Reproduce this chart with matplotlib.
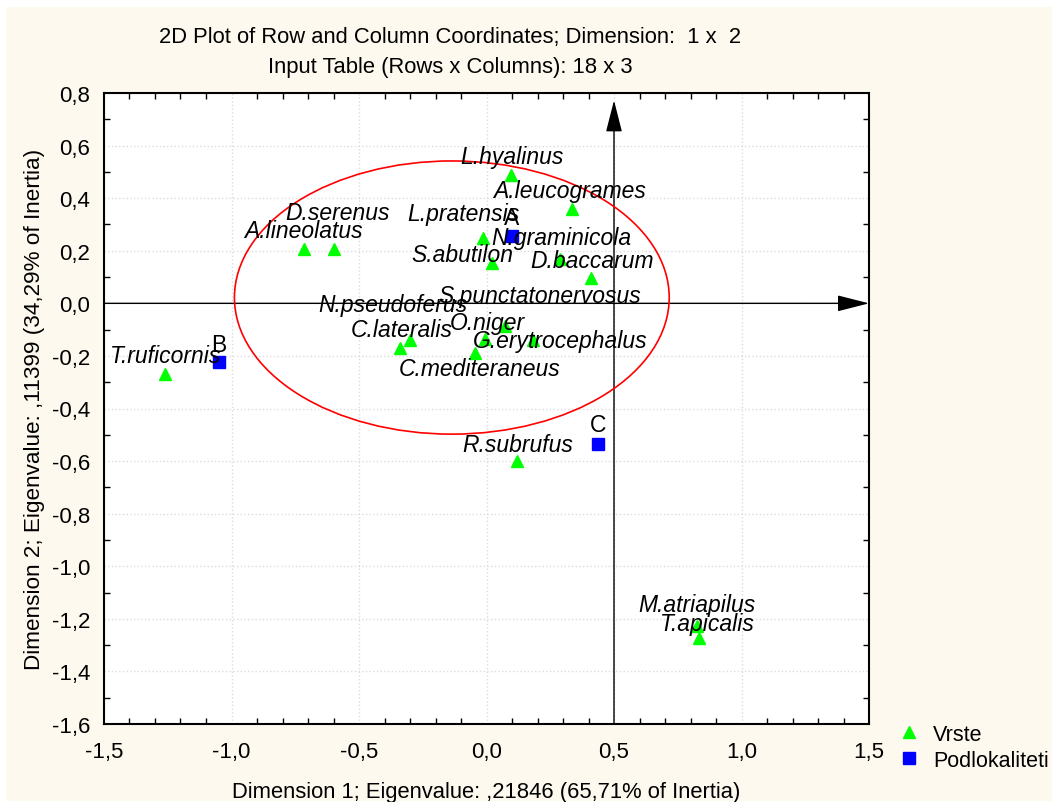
import matplotlib
matplotlib.use("Agg")
import matplotlib.pyplot as plt
from matplotlib.patches import Ellipse, Rectangle
from matplotlib.ticker import MultipleLocator, FuncFormatter

plt.rcParams['font.family'] = ['Liberation Sans', 'DejaVu Sans']

# row coordinates (species)
species = ['L.hyalinus', 'A.leucogrames', 'L.pratensis', 'N.graminicola', 'S.abutilon',
           'D.baccarum', 'D.serenus', 'A.lineolatus', 'S.punctatonervosus', 'N.pseudoferus',
           'C.lateralis', 'O.niger', 'G.erytrocephalus', 'C.mediteraneus', 'T.ruficornis',
           'R.subrufus', 'M.atriapilus', 'T.apicalis']
sp_dim1 = [0.096, 0.335, -0.014, 0.29, 0.02, 0.41, -0.60, -0.716, 0.073, -0.30,
           -0.339, -0.006, 0.182, -0.045, -1.261, 0.12, 0.824, 0.835]
sp_dim2 = [0.49, 0.36, 0.25, 0.17, 0.155, 0.097, 0.205, 0.205, -0.085, -0.138,
           -0.168, -0.134, -0.141, -0.19, -0.27, -0.60, -1.229, -1.274]

# column coordinates (sub-localities)
sites = ['A', 'B', 'C']
site_dim1 = [0.10, -1.049, 0.436]
site_dim2 = [0.257, -0.225, -0.534]

# label offsets in pixels (placement only)
sp_off = [(1, 18), (-2, 18), (-20, 24), (1, 21), (-29, 8), (1, 17), (4, 37), (0, 19),
          (35, 30), (-17, 35), (2, 18), (2, 16), (27, 0), (5, -15), (1, 19), (1, 17),
          (0, 22), (8, 15)]
site_off = [(0, 18), (0, 18), (0, 19)]

fig = plt.figure(figsize=(10.52, 8.03), dpi=100, facecolor='white')
# cream background with a thin white margin at top/left
fig.patches.append(Rectangle((6/1052, 1/803), 1 - 6/1052, 1 - 9/803, transform=fig.transFigure,
                             facecolor='#fdf9ee', edgecolor='none', zorder=0))
ax = fig.add_axes([104/1052, 1 - 725/803, 765/1052, 631/803])
ax.set_zorder(2)
ax.set_facecolor('white')

ax.set_xlim(-1.5, 1.5)
ax.set_ylim(-1.6, 0.8)
ax.xaxis.set_major_locator(MultipleLocator(0.5))
ax.xaxis.set_minor_locator(MultipleLocator(0.1))
ax.yaxis.set_major_locator(MultipleLocator(0.2))
ax.yaxis.set_minor_locator(MultipleLocator(0.1))
fmt = FuncFormatter(lambda v, p: ('%.1f' % v).replace('.', ',').replace('-0,0', '0,0'))
ax.xaxis.set_major_formatter(fmt)
ax.yaxis.set_major_formatter(fmt)
ax.tick_params(which='both', direction='in', top=True, right=True, labelsize=16)
ax.tick_params(axis='x', which='major', length=0, pad=12)
ax.tick_params(axis='y', which='major', length=0, pad=10)
ax.tick_params(which='minor', length=4, width=1)
ax.grid(True, which='major', color='#dcdcdc', linestyle=':', linewidth=1)
for s in ax.spines.values():
    s.set_linewidth(1.5)

# reference axes with arrows
arrow = dict(arrowstyle='-|>,head_length=1.1,head_width=0.28', color='black',
             lw=1, mutation_scale=18, shrinkA=0, shrinkB=0)
ax.annotate('', xy=(1.5, 0), xytext=(-1.5, 0), arrowprops=arrow)
ax.annotate('', xy=(0.5, 0.772), xytext=(0.5, -1.6), arrowprops=arrow)

ax.add_patch(Ellipse((-0.136, 0.022), 1.705, 1.039, fill=False, edgecolor='red', lw=1.2, zorder=3))

ax.plot(sp_dim1, sp_dim2, '^', color='#00ff00', markersize=9, linestyle='none',
        label='Vrste', zorder=4)
ax.plot(site_dim1, site_dim2, 's', color='#0000ff', markersize=8, linestyle='none',
        label='Podlokaliteti', zorder=4)

for name, x, y, off in zip(species, sp_dim1, sp_dim2, sp_off):
    ax.annotate(name, (x, y), xytext=off, textcoords='offset pixels', ha='center', va='center',
                fontsize=16.5, style='italic', zorder=5)
for name, x, y, off in zip(sites, site_dim1, site_dim2, site_off):
    ax.annotate(name, (x, y), xytext=off, textcoords='offset pixels', ha='center', va='center',
                fontsize=16.5, zorder=5)

ax.set_xlabel('Dimension 1; Eigenvalue: ,21846 (65,71% of Inertia)', fontsize=15.8, labelpad=14)
ax.set_ylabel('Dimension 2; Eigenvalue: ,11399 (34,29% of Inertia)', fontsize=16.2, labelpad=5)

fig.text(450/1052, 1 - 37/803, '2D Plot of Row and Column Coordinates; Dimension:  1 x  2',
         ha='center', va='center', fontsize=15.8)
fig.text(450/1052, 1 - 68/803, 'Input Table (Rows x Columns): 18 x 3',
         ha='center', va='center', fontsize=15.8)

fig.legend(loc='upper left', bbox_to_anchor=(890/1052, 1 - 716/803), frameon=False,
           fontsize=15.5, handlelength=1.0, handletextpad=0.6, labelspacing=0.25, borderaxespad=0)

fig.savefig('out.png', dpi=100, facecolor=fig.get_facecolor())
